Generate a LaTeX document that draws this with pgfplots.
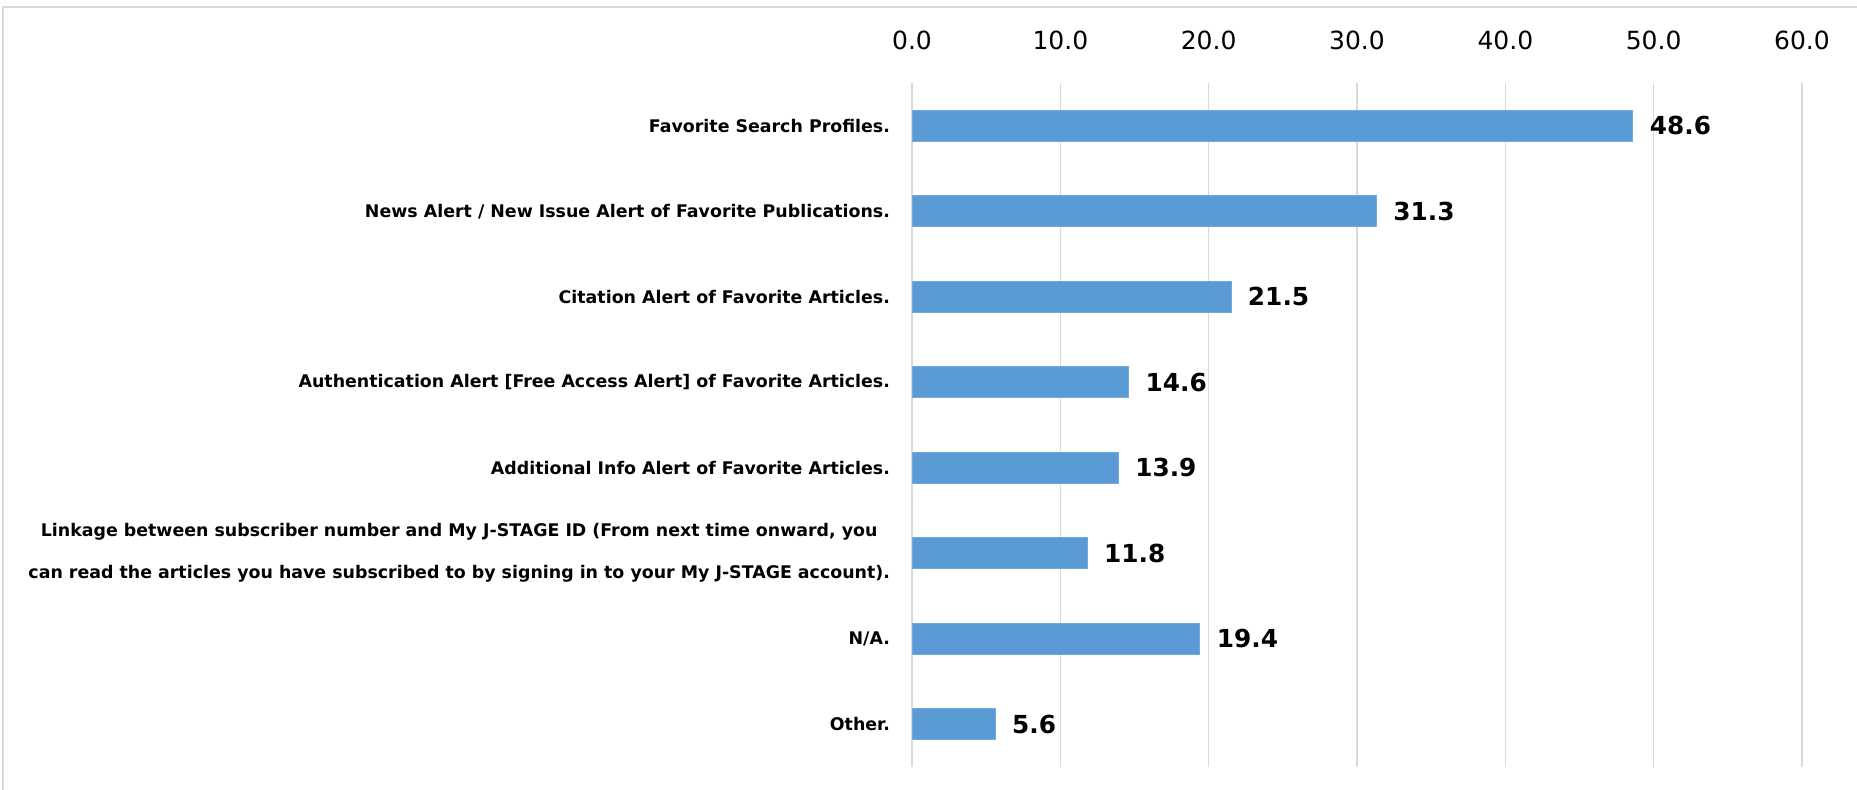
\documentclass[border=0pt]{standalone}
\usepackage{pgfplots}
\pgfplotsset{compat=1.18}
\usepackage{fontspec}
\setmainfont{DejaVu Sans}
\definecolor{barblue}{HTML}{5B9BD5}
\definecolor{gridgray}{HTML}{D9D9D9}

\begin{document}
\begin{tikzpicture}
\useasboundingbox (0,0) rectangle (928.5pt,395pt);
% chart frame (only top and left edges visible)
\draw[gridgray, line width=1pt] (1.5pt,0) -- (1.5pt,391.5pt) -- (928.5pt,391.5pt);
\begin{axis}[
  at={(456pt,11.5pt)}, anchor=south west,
  scale only axis, width=445pt, height=342pt,
  xbar, bar width=15.4pt,
  xmin=0, xmax=60, ymin=-0.5, ymax=7.5, y dir=reverse,
  xtick={0,10,20,30,40,50,60}, xticklabel pos=upper,
  ytick={0,...,7},
  yticklabels={
    Favorite Search Profiles.,
    News Alert / New Issue Alert of Favorite Publications.,
    Citation Alert of Favorite Articles.,
    {Authentication Alert [Free Access Alert] of Favorite Articles.},
    Additional Info Alert of Favorite Articles.,
    {Linkage between subscriber number and My J-STAGE ID (From next time onward, you\\can read the articles you have subscribed to by signing in to your My J-STAGE account).},
    N/A.,
    Other.},
  axis line style={draw=none}, major tick length=0pt,
  xmajorgrids, grid style={gridgray, line width=0.75pt},
  /pgf/number format/assume math mode=true,
  xticklabel style={font=\fontsize{12.5}{15}\selectfont, anchor=base, yshift=17pt,
    /pgf/number format/fixed, /pgf/number format/fixed zerofill,
    /pgf/number format/precision=1},
  yticklabel style={font=\bfseries\fontsize{8.7}{21}\selectfont, align=center,
    anchor=east, xshift=-7.5pt},
  point meta=x,
  nodes near coords={\pgfmathprintnumber[fixed,fixed zerofill,precision=1]{\pgfplotspointmeta}},
  nodes near coords style={font=\bfseries\fontsize{12.4}{15}\selectfont, anchor=west, xshift=5pt},
]
\addplot[fill=barblue, draw=barblue!85!white] coordinates {
  (48.6,0) (31.3,1) (21.5,2) (14.6,3) (13.9,4) (11.8,5) (19.4,6) (5.6,7)};
\end{axis}
\end{tikzpicture}
\end{document}
